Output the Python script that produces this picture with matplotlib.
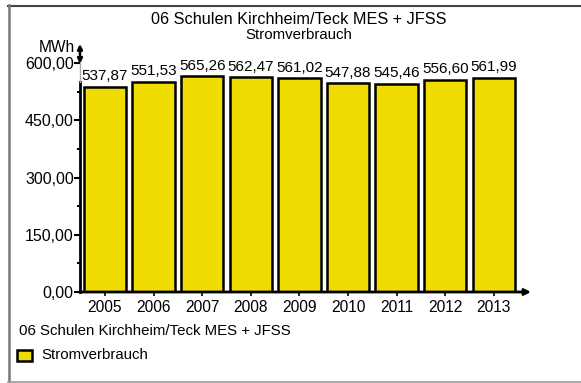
import matplotlib
matplotlib.use("Agg")
import matplotlib.pyplot as plt
from matplotlib.lines import Line2D
from matplotlib.patches import Rectangle

years = ["2005", "2006", "2007", "2008", "2009", "2010", "2011", "2012", "2013"]
values = [537.87, 551.53, 565.26, 562.47, 561.02, 547.88, 545.46, 556.60, 561.99]
y_ticks = [0, 150, 300, 450, 600]
title = "06 Schulen Kirchheim/Teck MES + JFSS"
subtitle = "Stromverbrauch"
unit = "MWh"

plt.rcParams["font.family"] = ["Liberation Sans", "DejaVu Sans"]
W, H = 581, 383
fig = plt.figure(figsize=(W / 100, H / 100), dpi=100)

def fx(px):
    return px / W

def fy(py):
    return 1 - py / H

bar_color = "#F0DC00"

ax = fig.add_axes([fx(80), fy(292), fx(531) - fx(80), fy(44) - fy(292)])
x = list(range(len(years)))
ax.bar(x, values, width=0.87, color=bar_color, edgecolor="black", linewidth=1.8, zorder=2)
ax.set_xlim(-0.514, 8.765)
ax.set_ylim(0, 650)

for xi, v in zip(x, values):
    ax.text(xi, v + 9, f"{v:.2f}".replace(".", ","), ha="center", va="bottom", fontsize=11)

for s in ax.spines.values():
    s.set_visible(False)
ax.set_facecolor("none")

ax.set_yticks(y_ticks)
ax.set_yticklabels([f"{t:.2f}".replace(".", ",") for t in y_ticks], fontsize=11.5)
ax.set_yticks([75, 225, 375, 525], minor=True)
ax.tick_params(axis="y", which="major", length=4, width=1.5, direction="out", pad=0.5)
ax.tick_params(axis="y", which="minor", length=2, width=1.5, direction="out")
ax.set_xticks(x)
ax.set_xticklabels(years, fontsize=11.2)
ax.tick_params(axis="x", length=3, width=1.2, direction="out", pad=3)

# axis lines with arrows
trans = ax.get_yaxis_transform()
ax.plot([0, 0], [0, 550], color="black", lw=2, transform=trans, clip_on=False, zorder=3)
ax.plot([0, 0], [550, 600], color="#aaaaaa", lw=1, transform=trans, clip_on=False, zorder=3)
ax.annotate("", xy=(0, 650), xytext=(0, 598), xycoords=trans, textcoords=trans,
            arrowprops=dict(arrowstyle="<|-|>", color="black", lw=1.8,
                            mutation_scale=7, shrinkA=0, shrinkB=0))
ax.annotate("", xy=(1.0, 0), xytext=(0, 0), xycoords="axes fraction",
            arrowprops=dict(arrowstyle="-|>", color="black", lw=2,
                            mutation_scale=9, shrinkA=0, shrinkB=0))

fig.text(fx(75), fy(47), unit, ha="right", va="center", fontsize=11.2)

# titles
fig.text(fx(299), fy(20), title, ha="center", va="center", fontsize=11.7)
fig.text(fx(299), fy(35), subtitle, ha="center", va="center", fontsize=10.8)

# legend block
fig.text(fx(19), fy(331), title, ha="left", va="center", fontsize=10.8)
fig.patches.append(Rectangle((fx(17), fy(361)), fx(15), fy(350) - fy(361),
                             transform=fig.transFigure, facecolor=bar_color,
                             edgecolor="black", linewidth=1.8))
fig.text(fx(41), fy(355), subtitle, ha="left", va="center", fontsize=10.8)

# outer frame
fig.add_artist(Line2D([fx(8), 1], [fy(5.5), fy(5.5)], color="#444444", lw=1.5))
fig.add_artist(Line2D([fx(8.5), fx(8.5)], [fy(5), fy(381)], color="#777777", lw=1.8))
fig.add_artist(Line2D([fx(8), 1], [fy(381.5), fy(381.5)], color="#999999", lw=1.2))

fig.savefig("out.png", dpi=100)
